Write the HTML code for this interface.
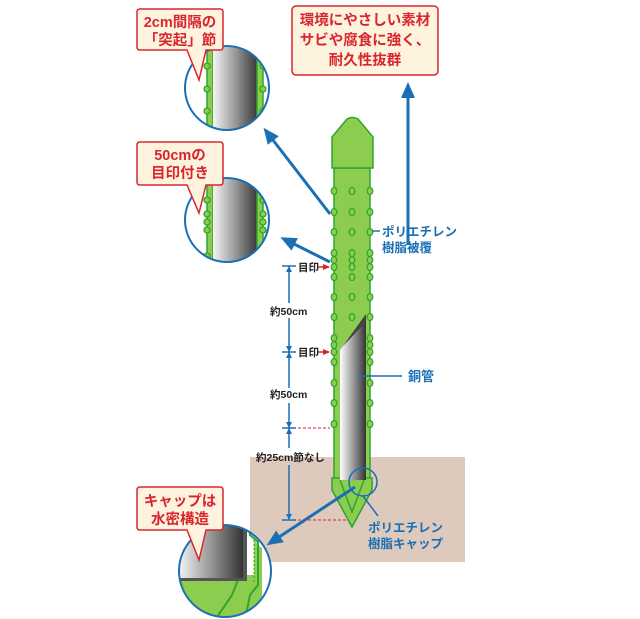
<!DOCTYPE html>
<html><head><meta charset="utf-8"><style>
html,body{margin:0;padding:0;background:#fff;}
svg{display:block;font-family:"Liberation Sans","Noto Sans CJK JP",sans-serif;}
</style></head><body>
<svg width="640" height="619" viewBox="0 0 640 619" xmlns="http://www.w3.org/2000/svg">
<defs>
<linearGradient id="st" x1="0" x2="1"><stop offset="0" stop-color="#f4f4f4"/><stop offset="0.5" stop-color="#9a9a9a"/><stop offset="1" stop-color="#3a3a3a"/></linearGradient>
<linearGradient id="st2" x1="0" x2="1"><stop offset="0" stop-color="#ffffff"/><stop offset="0.6" stop-color="#888"/><stop offset="1" stop-color="#333"/></linearGradient>
<marker id="ah" markerWidth="8" markerHeight="8" refX="6" refY="4" orient="auto" markerUnits="userSpaceOnUse"><path d="M0,0 L8,4 L0,8 z" fill="#1a6fb5"/></marker>
<marker id="ahb" markerWidth="16" markerHeight="14" refX="12" refY="7" orient="auto" markerUnits="userSpaceOnUse"><path d="M0,0 L16,7 L0,14 z" fill="#1a6fb5"/></marker>
<marker id="ahr" markerWidth="7" markerHeight="6" refX="6" refY="3" orient="auto" markerUnits="userSpaceOnUse"><path d="M0,0 L7,3 L0,6 z" fill="#d8262e"/></marker>
<clipPath id="c1"><circle cx="227" cy="88" r="42"/></clipPath>
<clipPath id="c2"><circle cx="227" cy="220" r="42"/></clipPath>
<clipPath id="c3"><circle cx="225" cy="571" r="46"/></clipPath>
</defs>

<!-- ground -->
<rect x="250" y="457" width="215" height="105" fill="#dec9bd"/>

<!-- circle 1 -->
<g clip-path="url(#c1)">
<rect x="180" y="40" width="100" height="100" fill="#fff"/>
<rect x="207" y="40" width="6" height="100" fill="#8ccc4e" stroke="#2ea52e" stroke-width="1.5"/>
<rect x="213" y="40" width="44" height="100" fill="url(#st)"/>
<rect x="257" y="40" width="6" height="100" fill="#8ccc4e" stroke="#2ea52e" stroke-width="1.5"/>
<g fill="#8ccc4e" stroke="#2ea52e" stroke-width="1.3">
<circle cx="207" cy="66" r="3"/><circle cx="207" cy="89" r="3"/><circle cx="207" cy="111" r="3"/>
<circle cx="263" cy="66" r="3"/><circle cx="263" cy="89" r="3"/><circle cx="263" cy="111" r="3"/>
</g></g>
<circle cx="227" cy="88" r="42" fill="none" stroke="#1a6fb5" stroke-width="2"/>

<!-- circle 2 -->
<g clip-path="url(#c2)">
<rect x="180" y="170" width="100" height="100" fill="#fff"/>
<rect x="207" y="170" width="6" height="100" fill="#8ccc4e" stroke="#2ea52e" stroke-width="1.5"/>
<rect x="213" y="170" width="44" height="100" fill="url(#st)"/>
<rect x="257" y="170" width="6" height="100" fill="#8ccc4e" stroke="#2ea52e" stroke-width="1.5"/>
<g fill="#8ccc4e" stroke="#2ea52e" stroke-width="1.3">
<circle cx="207" cy="200" r="3"/><circle cx="207" cy="214" r="3"/><circle cx="207" cy="222" r="3"/><circle cx="207" cy="230" r="3"/><circle cx="207" cy="256" r="3"/>
<circle cx="263" cy="200" r="3"/><circle cx="263" cy="214" r="3"/><circle cx="263" cy="222" r="3"/><circle cx="263" cy="230" r="3"/><circle cx="263" cy="256" r="3"/>
</g></g>
<circle cx="227" cy="220" r="42" fill="none" stroke="#1a6fb5" stroke-width="2"/>

<!-- circle 3 -->
<g clip-path="url(#c3)">
<rect x="175" y="520" width="100" height="100" fill="#fff"/>
<path d="M175,575 L254,575 L254,540 L258,545 L262,548 L262,620 L175,620z" fill="#8ccc4e"/>
<path d="M240,575 L232,595 L215,620" fill="none" stroke="#2ea52e" stroke-width="2"/>
<path d="M249,525 L250,535 L258,542 L258,585 L250,595 L245,620" fill="none" stroke="#2ea52e" stroke-width="2"/>
<path d="M254,540 L254,582" stroke="#2ea52e" stroke-width="1" stroke-dasharray="2,2"/>
<rect x="175" y="520" width="68" height="58" fill="url(#st2)"/>
<rect x="243" y="520" width="4" height="60" fill="#555"/>
<rect x="175" y="578" width="72" height="3" fill="#555"/>
</g>
<circle cx="225" cy="571" r="46" fill="none" stroke="#1a6fb5" stroke-width="2"/>

<!-- callouts -->
<g stroke="#d8262e" stroke-width="1.5" fill="#fdf3de">
<path d="M140,9 H220 Q223,9 223,12 V47 Q223,50 220,50 H206 L199,80 L187,50 H140 Q137,50 137,47 V12 Q137,9 140,9z"/>
<path d="M140,142 H220 Q223,142 223,145 V182 Q223,185 220,185 H206 L199,213 L187,185 H140 Q137,185 137,182 V145 Q137,142 140,142z"/>
<path d="M140,487 H220 Q223,487 223,490 V527 Q223,530 220,530 H206 L199,560 L187,530 H140 Q137,530 137,527 V490 Q137,487 140,487z"/>
<rect x="292" y="6" width="146" height="69" rx="4"/>
</g>
<g fill="#d8262e" font-weight="bold" font-size="14.5" text-anchor="middle">
<text x="180" y="27">2cm間隔の</text><text x="180" y="45">「突起」節</text>
<text x="180" y="160">50cmの</text><text x="180" y="178">目印付き</text>
<text x="180" y="506">キャップは</text><text x="180" y="524">水密構造</text>
<text x="365" y="25">環境にやさしい素材</text><text x="365" y="45">サビや腐食に強く、</text><text x="365" y="65">耐久性抜群</text>
</g>

<!-- pipe -->
<path d="M334,168 L334,478 L352,520 L370,478 L370,168z" fill="#8ccc4e" stroke="#2ea52e" stroke-width="1.5"/>
<path d="M332,168 L332,137 L347,119 Q352,116 358,119 L373,137 L373,168z" fill="#8ccc4e" stroke="#2ea52e" stroke-width="1.5"/>
<!-- cap -->
<path d="M332,478 L332,490 L352,527 L372,490 L372,478 z" fill="#8ccc4e" stroke="#2ea52e" stroke-width="1.5"/>
<path d="M340,480 L352,512 L364,480" fill="none" stroke="#2ea52e" stroke-width="1.5"/>
<!-- steel -->
<path d="M340,350 L366,314 L366,480 L340,480z" fill="url(#st2)"/>
<path d="M340,350 L366,314 L366,322 L343,346z" fill="#444"/>

<!-- bumps -->
<g fill="#8ccc4e" stroke="#2ea52e" stroke-width="1.2">
<g id="L">
<ellipse cx="334" cy="191" rx="2.8" ry="3.5"/><ellipse cx="334" cy="212" rx="2.8" ry="3.5"/><ellipse cx="334" cy="232" rx="2.8" ry="3.5"/><ellipse cx="334" cy="253" rx="2.8" ry="3.5"/><ellipse cx="334" cy="260" rx="2.8" ry="3.5"/><ellipse cx="334" cy="267" rx="2.8" ry="3.5"/><ellipse cx="334" cy="277" rx="2.8" ry="3.5"/><ellipse cx="334" cy="297" rx="2.8" ry="3.5"/><ellipse cx="334" cy="317" rx="2.8" ry="3.5"/><ellipse cx="334" cy="338" rx="2.8" ry="3.5"/><ellipse cx="334" cy="345" rx="2.8" ry="3.5"/><ellipse cx="334" cy="352" rx="2.8" ry="3.5"/><ellipse cx="334" cy="362" rx="2.8" ry="3.5"/><ellipse cx="334" cy="383" rx="2.8" ry="3.5"/><ellipse cx="334" cy="403" rx="2.8" ry="3.5"/><ellipse cx="334" cy="424" rx="2.8" ry="3.5"/>
</g>
<use href="#L" x="36"/>
<ellipse cx="352" cy="191" rx="2.8" ry="3.5"/><ellipse cx="352" cy="212" rx="2.8" ry="3.5"/><ellipse cx="352" cy="232" rx="2.8" ry="3.5"/><ellipse cx="352" cy="253" rx="2.8" ry="3.5"/><ellipse cx="352" cy="260" rx="2.8" ry="3.5"/><ellipse cx="352" cy="267" rx="2.8" ry="3.5"/><ellipse cx="352" cy="277" rx="2.8" ry="3.5"/><ellipse cx="352" cy="297" rx="2.8" ry="3.5"/><ellipse cx="352" cy="317" rx="2.8" ry="3.5"/>
</g>

<!-- small circle near cap -->
<circle cx="363" cy="482" r="14" fill="none" stroke="#1a6fb5" stroke-width="1.5"/>

<!-- blue arrows -->
<g stroke="#1a6fb5" stroke-width="3" fill="none">
<line x1="330" y1="214" x2="266" y2="131" marker-end="url(#ahb)"/>
<line x1="330" y1="262" x2="284" y2="239" marker-end="url(#ahb)"/>
<line x1="408" y1="245" x2="408" y2="86" marker-end="url(#ahb)"/>
<line x1="355" y1="487" x2="270" y2="543" marker-end="url(#ahb)"/>
</g>
<g stroke="#1a6fb5" stroke-width="1.5">
<line x1="372" y1="231" x2="380" y2="231"/>
<line x1="358" y1="376" x2="402" y2="376"/>
<line x1="363" y1="496" x2="378" y2="516"/>
</g>
<g fill="#1a6fb5" font-weight="bold" font-size="12.5">
<text x="382" y="236">ポリエチレン</text><text x="382" y="252">樹脂被覆</text>
<text x="408" y="381" font-size="13">銅管</text>
<text x="368" y="532">ポリエチレン</text><text x="368" y="548">樹脂キャップ</text>
</g>

<!-- dimension line -->
<g stroke="#1a6fb5" stroke-width="1.5">
<line x1="289" y1="266" x2="289" y2="303"/><line x1="289" y1="318" x2="289" y2="388"/><line x1="289" y1="403" x2="289" y2="448"/><line x1="289" y1="465" x2="289" y2="519"/>
<line x1="282" y1="266" x2="296" y2="266"/><line x1="282" y1="352" x2="296" y2="352"/><line x1="282" y1="428" x2="296" y2="428"/><line x1="282" y1="520" x2="296" y2="520"/>
</g>
<g fill="#1a6fb5">
<path d="M289,266 l-3,6 h6z"/><path d="M289,352 l-3,-6 h6z"/><path d="M289,352 l-3,6 h6z"/><path d="M289,428 l-3,-6 h6z"/><path d="M289,428 l-3,6 h6z"/><path d="M289,520 l-3,-6 h6z"/>
</g>
<g stroke="#d8262e" stroke-width="1" stroke-dasharray="3,2">
<line x1="298" y1="428" x2="330" y2="428"/><line x1="298" y1="520" x2="348" y2="520"/>
</g>
<g stroke="#d8262e" stroke-width="1.5">
<line x1="317" y1="267" x2="329" y2="267" marker-end="url(#ahr)"/>
<line x1="317" y1="352" x2="329" y2="352" marker-end="url(#ahr)"/>
</g>
<g fill="#222" font-size="10.5" font-weight="bold">
<text x="298" y="271">目印</text><text x="298" y="356">目印</text>
<text x="270" y="315">約50cm</text><text x="270" y="398">約50cm</text>
<text x="256" y="461">約25cm節なし</text>
</g>
</svg>
</body></html>
